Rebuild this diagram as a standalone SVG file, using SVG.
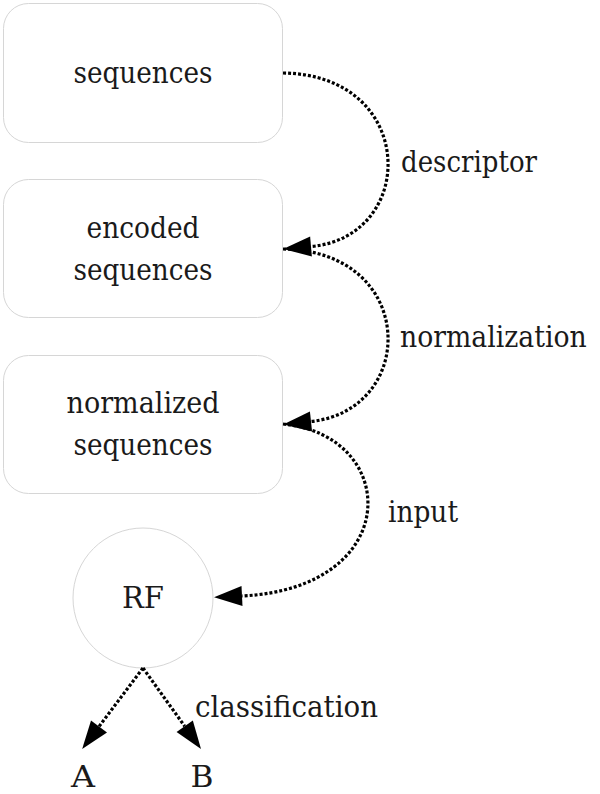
<svg xmlns="http://www.w3.org/2000/svg" width="600" height="794" viewBox="0 0 600 794">
<style>
.box{fill:#fff;stroke:#d6d6d6;stroke-width:1}
text{font-family:'DejaVu Serif',serif;font-size:30px;fill:#1a1a1a}
.c{text-anchor:middle}
.e{fill:none;stroke:#000;stroke-width:3.2;stroke-dasharray:3 2}
</style>
<defs>
<marker id="ah" markerUnits="userSpaceOnUse" markerWidth="30" markerHeight="24" refX="0" refY="10" orient="auto" overflow="visible">
<polygon points="0,0 28,10 0,20" fill="#000"/>
</marker>
</defs>
<rect width="600" height="794" fill="#fff"/>
<g id="sequences">
<rect class="box" x="3.5" y="3.5" width="279" height="139" rx="25"/>
<text class="c" x="143" y="83" textLength="139" lengthAdjust="spacingAndGlyphs">sequences</text>
</g>
<g id="encoded">
<rect class="box" x="3.5" y="179.5" width="279" height="138" rx="25"/>
<text class="c" x="143" y="238" textLength="113" lengthAdjust="spacingAndGlyphs">encoded</text>
<text class="c" x="143" y="280" textLength="139" lengthAdjust="spacingAndGlyphs">sequences</text>
</g>
<g id="normalized">
<rect class="box" x="3.5" y="355.5" width="279" height="138" rx="25"/>
<text class="c" x="143" y="413" textLength="153" lengthAdjust="spacingAndGlyphs">normalized</text>
<text class="c" x="143" y="455" textLength="139" lengthAdjust="spacingAndGlyphs">sequences</text>
</g>
<g id="RF">
<circle class="box" cx="143" cy="598" r="70"/>
<text class="c" x="143" y="608" textLength="42" lengthAdjust="spacingAndGlyphs">RF</text>
</g>
<g id="A"><text class="c" x="83" y="787" textLength="24" lengthAdjust="spacingAndGlyphs">A</text></g>
<g id="B"><text class="c" x="202" y="787" textLength="23" lengthAdjust="spacingAndGlyphs">B</text></g>
<g id="connectors">
<path class="e" d="M283,73 C418,75 418,237 311,246.5" marker-end="url(#ah)"/>
<path class="e" d="M283,249 C418,251 418,410 311,421.5" marker-end="url(#ah)"/>
<path class="e" d="M283,424 C400,435 405,588 242,596" marker-end="url(#ah)"/>
<path class="e" d="M143,668 L99,726.5" marker-end="url(#ah)"/>
<path class="e" d="M143,668 L184.7,726.2" marker-end="url(#ah)"/>
<text x="401" y="172" textLength="136" lengthAdjust="spacingAndGlyphs">descriptor</text>
<text transform="translate(400,347) scale(0.89,1)" x="0" y="0">normalization</text>
<text x="388" y="522" textLength="70" lengthAdjust="spacingAndGlyphs">input</text>
<text x="195" y="717" textLength="183" lengthAdjust="spacingAndGlyphs">classification</text>
</g>
</svg>
